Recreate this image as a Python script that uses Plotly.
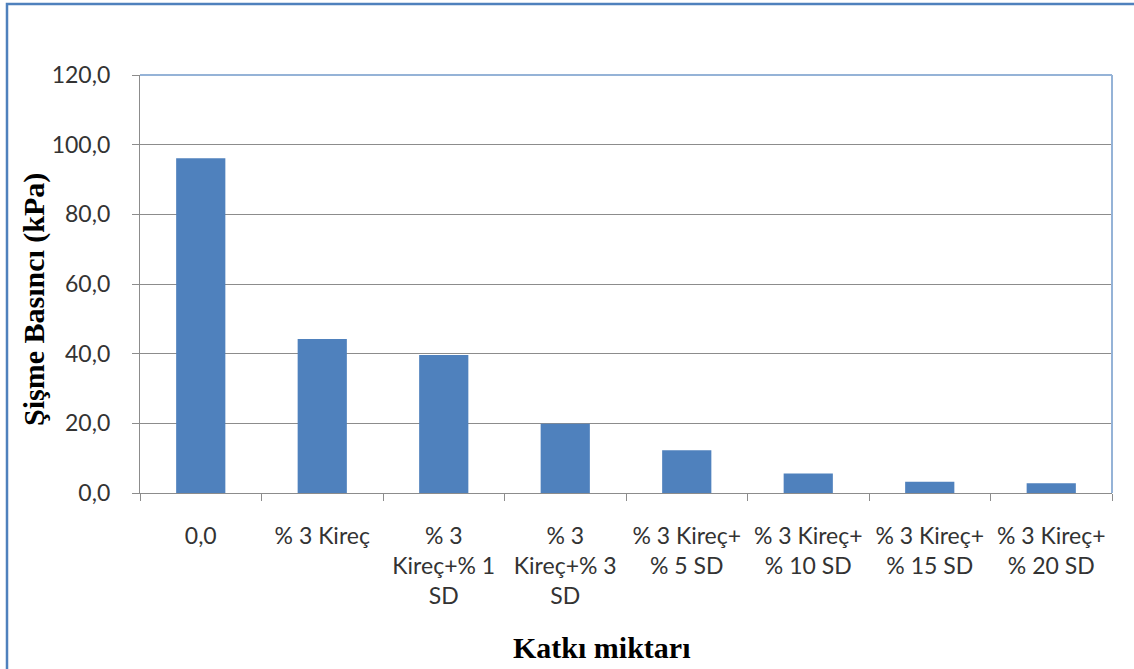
import plotly.graph_objects as go

# Swelling pressure for each additive mix
categories = [
    "0,0",
    "% 3 Kireç",
    "% 3<br>Kireç+% 1<br>SD",
    "% 3<br>Kireç+% 3<br>SD",
    "% 3 Kireç+<br>% 5 SD",
    "% 3 Kireç+<br>% 10 SD",
    "% 3 Kireç+<br>% 15 SD",
    "% 3 Kireç+<br>% 20 SD",
]
pressure_kpa = [96.1, 44.2, 39.6, 19.9, 12.3, 5.6, 3.2, 2.8]
y_ticks = [0, 20, 40, 60, 80, 100, 120]

W, H = 1134, 669
L, R, T, B = 140, 22, 75, 176
pw, ph = W - L - R, H - T - B


def px_x(x):
    return (x - L) / pw


def px_y(y):
    return (H - B - y) / ph


fig = go.Figure(
    go.Bar(
        x=categories,
        y=pressure_kpa,
        marker=dict(color="#4F81BD", line=dict(width=0)),
    )
)

tick_font = dict(family="Lato, Open Sans, sans-serif", size=23, color="#333333")
title_font = dict(family="Liberation Serif, Times New Roman, serif", size=30, color="black")

fig.update_layout(
    width=W,
    height=H,
    margin=dict(l=L, r=R, t=T, b=B, pad=0),
    paper_bgcolor="white",
    plot_bgcolor="white",
    separators=", ",
    bargap=0.595,
    showlegend=False,
    xaxis=dict(
        type="category",
        tickson="boundaries",
        ticks="outside",
        ticklen=7,
        tickwidth=1.3,
        tickcolor="#8c8c8c",
        showline=True,
        linecolor="#8c8c8c",
        linewidth=1.3,
        showgrid=False,
        tickfont=tick_font,
        ticklabelstandoff=22,
        tickangle=0,
        fixedrange=True,
    ),
    yaxis=dict(
        range=[0, 120],
        tickvals=y_ticks,
        tickformat=".1f",
        ticks="outside",
        ticklen=7,
        tickwidth=1.3,
        tickcolor="#8c8c8c",
        showline=True,
        linecolor="#8c8c8c",
        linewidth=1.3,
        showgrid=True,
        gridcolor="#8c8c8c",
        gridwidth=1.3,
        zeroline=False,
        tickfont=tick_font,
        ticklabelstandoff=17,
        fixedrange=True,
    ),
    annotations=[
        dict(
            text="<b>Katkı miktarı</b>",
            xref="paper", yref="paper",
            x=px_x(602), y=px_y(647),
            xanchor="center", yanchor="middle",
            showarrow=False, font=title_font,
        ),
        dict(
            text="<b>Şişme Basıncı (kPa)</b>",
            xref="paper", yref="paper",
            x=px_x(34), y=px_y(300),
            xanchor="center", yanchor="middle",
            textangle=-90,
            showarrow=False, font=title_font,
        ),
    ],
    shapes=[
        # plot-area frame: top and right edges
        dict(type="line", xref="paper", yref="paper", x0=0, x1=1, y0=1, y1=1,
             line=dict(color="#95B3D7", width=2), layer="above"),
        dict(type="line", xref="paper", yref="paper", x0=1, x1=1, y0=0, y1=1,
             line=dict(color="#95B3D7", width=2), layer="above"),
        # chart border
        dict(type="rect", xref="paper", yref="paper",
             x0=px_x(7), x1=px_x(W + 20), y0=px_y(4), y1=px_y(H + 20),
             line=dict(color="#4F81BD", width=2.5), layer="above"),
    ],
)

fig.write_html("out.html")
